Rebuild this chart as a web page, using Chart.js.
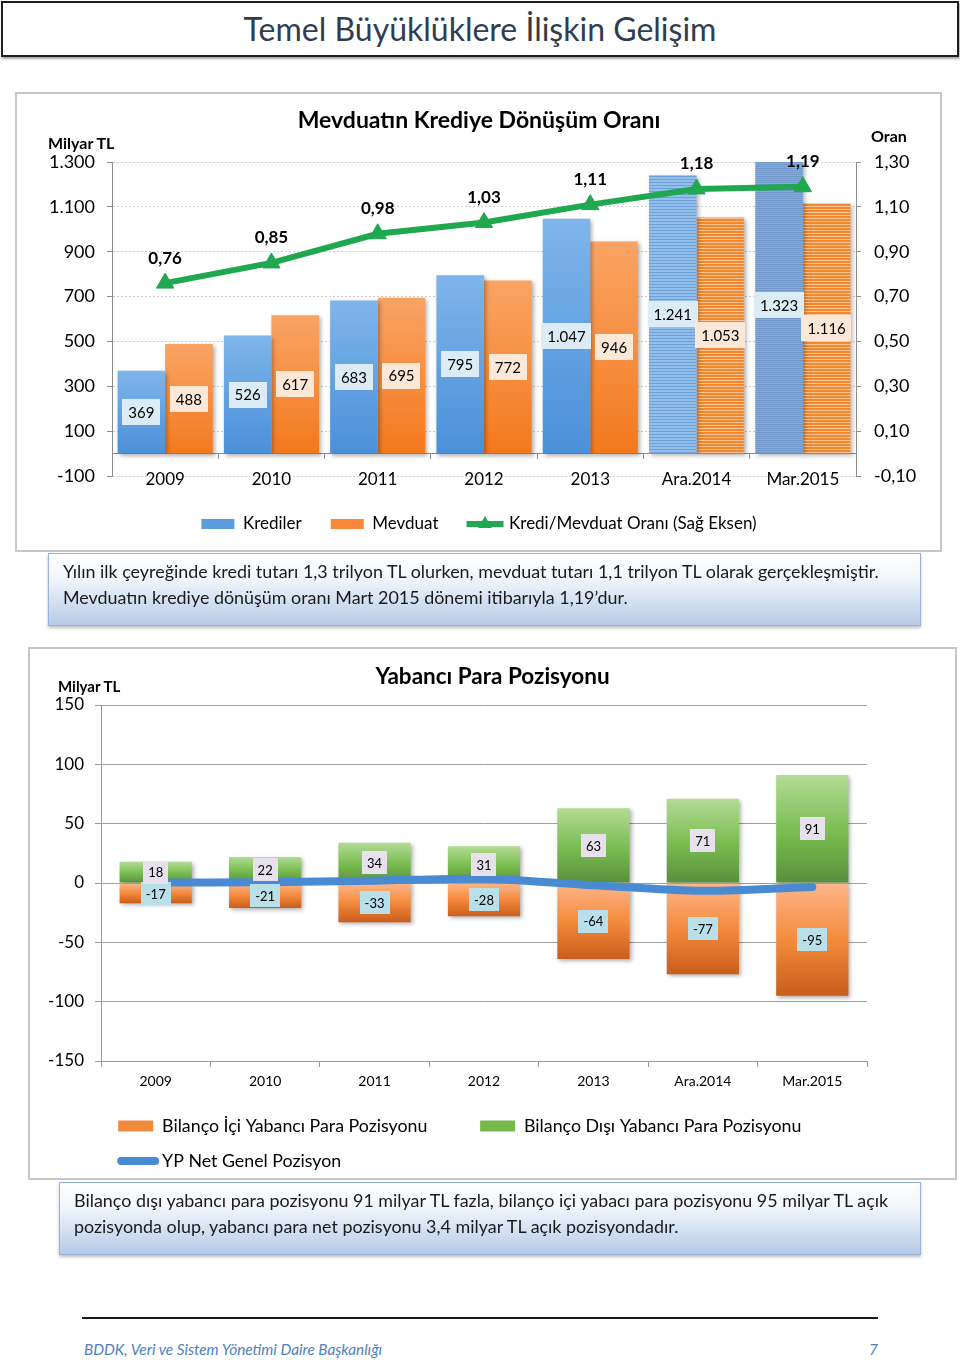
<!DOCTYPE html>
<html lang="tr">
<head>
<meta charset="utf-8">
<script src="https://cdn.jsdelivr.net/npm/chart.js@4.4.1/dist/chart.umd.min.js"></script>
<style>
html,body{margin:0;padding:0;background:#fff;}
body{width:960px;height:1363px;position:relative;overflow:hidden;font-family:Lato,'Open Sans',sans-serif;color:#000;}
.abs{position:absolute;}
#hdr{left:1px;top:1px;width:958px;height:56px;box-sizing:border-box;border:2px solid #1e1e1e;box-shadow:1px 2px 2px rgba(0,0,0,0.35);
  font-size:32px;color:#313d4f;text-align:center;line-height:52px;}
.box{box-sizing:border-box;border:2px solid #c6c6c6;background:#fff;}
.note{box-sizing:border-box;border:1.5px solid #9ab3d8;background:linear-gradient(#ffffff 0%,#f1f5fb 35%,#b6cae8 100%);
  box-shadow:0 2px 3px rgba(0,0,0,0.25);font-size:17.9px;line-height:26px;color:#1a1a1a;white-space:nowrap;padding:4px 0 0 14px;}
.axl{font-weight:bold;white-space:nowrap;line-height:1;}
#foot{left:84px;top:1340px;font-style:italic;font-size:15.3px;color:#4f7fbf;white-space:nowrap;}
#pg{left:869px;top:1340px;font-style:italic;font-size:15.3px;color:#4f7fbf;}
canvas{display:block;}
</style>
</head>
<body>
<div id="hdr" class="abs">Temel Büyüklüklere İlişkin Gelişim</div>

<div class="abs box" style="left:15px;top:92px;width:927px;height:460px;"></div>
<div class="abs" style="left:16px;top:93px;"><canvas id="c1" width="926" height="459"></canvas></div>
<div class="abs axl" style="left:48px;top:135px;font-size:16px;">Milyar TL</div>
<div class="abs axl" style="left:871px;top:128px;font-size:16px;">Oran</div>

<div class="abs note" style="left:48px;top:553px;width:873px;height:73px;">Yılın ilk çeyreğinde kredi tutarı 1,3 trilyon TL olurken, mevduat tutarı 1,1 trilyon TL olarak gerçekleşmiştir.<br>Mevduatın krediye dönüşüm oranı Mart 2015 dönemi itibarıyla 1,19’dur.</div>

<div class="abs box" style="left:28px;top:647px;width:929px;height:533px;"></div>
<div class="abs" style="left:29px;top:648px;"><canvas id="c2" width="927" height="532"></canvas></div>
<div class="abs axl" style="left:58px;top:679px;font-size:15px;">Milyar TL</div>

<div class="abs note" style="left:59px;top:1182px;width:862px;height:73px;">Bilanço dışı yabancı para pozisyonu 91 milyar TL fazla, bilanço içi yabacı para pozisyonu 95 milyar TL açık<br>pozisyonda olup, yabancı para net pozisyonu 3,4 milyar TL açık pozisyondadır.</div>

<div class="abs" style="left:82px;top:1317px;width:796px;height:2px;background:#1a1a1a;"></div>
<div id="foot" class="abs">BDDK, Veri ve Sistem Yönetimi Daire Başkanlığı</div>
<div id="pg" class="abs">7</div>

<script>
// ---------- DATA ----------
const categories = ['2009', '2010', '2011', '2012', '2013', 'Ara.2014', 'Mar.2015'];
const krediler = [369, 526, 683, 795, 1047, 1241, 1323];
const mevduat = [488, 617, 695, 772, 946, 1053, 1116];
const krediMevduatOrani = [0.76, 0.85, 0.98, 1.03, 1.11, 1.18, 1.19];
const leftTicks1 = { min: -100, max: 1300, step: 200 };
const rightTicks1 = { min: -0.10, max: 1.30, step: 0.20 };

const bilancoIci = [-17, -21, -33, -28, -64, -77, -95];
const bilancoDisi = [18, 22, 34, 31, 63, 71, 91];
const ypNetGenel = [0.4, 0.6, 1.9, 3.6, -1.9, -6.6, -3.4];
const ticks2 = { min: -150, max: 150, step: 50 };

// ---------- HELPERS ----------
const FONT = "Lato, 'Open Sans', sans-serif";
Chart.defaults.font.family = FONT;
Chart.defaults.color = '#000';

const trNum = v => (v < 0 ? '-' : '') + Math.abs(Math.round(v)).toString().replace(/\B(?=(\d{3})+(?!\d))/g, '.');
const trDec = (v, d) => v.toFixed(d).replace('.', ',');

function vGrad(chart, y0, y1, stops) {
  const g = chart.ctx.createLinearGradient(0, y0, 0, y1);
  stops.forEach(s => g.addColorStop(s[0], s[1]));
  return g;
}
function stripes(ctx, rows) {
  const cv = document.createElement('canvas');
  cv.width = 4; cv.height = rows.length;
  const x = cv.getContext('2d');
  rows.forEach((c, r) => { x.fillStyle = c; x.fillRect(0, r, 4, 1); });
  return ctx.createPattern(cv, 'repeat');
}

const barShadow = {
  id: 'barShadow',
  beforeDatasetDraw(chart, args) {
    const ds = chart.data.datasets[args.index];
    if (!ds.shadow) return;
    const c = chart.ctx;
    c.save();
    c.shadowColor = 'rgba(0,0,0,0.30)';
    c.shadowBlur = 4; c.shadowOffsetX = 2; c.shadowOffsetY = 2;
  },
  afterDatasetDraw(chart, args) {
    const ds = chart.data.datasets[args.index];
    if (ds.shadow) chart.ctx.restore();
  }
};

const dataLabels = {
  id: 'dataLabels',
  afterDatasetsDraw(chart) {
    const c = chart.ctx;
    chart.data.datasets.forEach((ds, i) => {
      const cfg = ds.dl;
      if (!cfg) return;
      const meta = chart.getDatasetMeta(i);
      meta.data.forEach((el, j) => {
        const text = cfg.fmt(ds.data[j]);
        c.save();
        c.font = cfg.font;
        const x = el.x;
        const y = cfg.mode === 'center' ? (el.y + el.base) / 2 : el.y + cfg.dy;
        if (cfg.bg) {
          const w = c.measureText(text).width + 2 * cfg.padX;
          c.fillStyle = cfg.bg;
          c.fillRect(Math.round(x - w / 2), Math.round(y - cfg.h / 2), Math.round(w), cfg.h);
        }
        c.fillStyle = '#000';
        c.textAlign = 'center';
        c.textBaseline = 'middle';
        c.fillText(text, x, y + 1);
        c.restore();
      });
    });
  }
};

const legendMarker = {
  id: 'legendMarker',
  afterDraw(chart) {
    const lg = chart.legend;
    if (!lg || !lg.legendItems) return;
    const c = chart.ctx;
    const bw = lg.options.labels.boxWidth;
    lg.legendItems.forEach((it, i) => {
      if (!it.marker) return;
      const hb = lg.legendHitBoxes[i];
      const cy = hb.top + hb.height / 2;
      c.save();
      if (it.marker === 'triLine') {
        c.strokeStyle = it.markerColor; c.lineWidth = 6;
        c.beginPath(); c.moveTo(hb.left - 1, cy); c.lineTo(hb.left + bw + 3, cy); c.stroke();
        const cx = hb.left + bw / 2 + 1, r = 8;
        c.fillStyle = it.markerColor;
        c.beginPath();
        c.moveTo(cx, cy - r);
        c.lineTo(cx + 0.866 * r, cy + r / 2);
        c.lineTo(cx - 0.866 * r, cy + r / 2);
        c.closePath(); c.fill();
      } else if (it.marker === 'roundLine') {
        c.strokeStyle = it.markerColor; c.lineWidth = 8; c.lineCap = 'round';
        c.beginPath(); c.moveTo(hb.left + 3, cy); c.lineTo(hb.left + bw + 2, cy); c.stroke();
      }
      c.restore();
    });
  }
};

// ---------- CHART 1 ----------
const ctx1 = document.getElementById('c1').getContext('2d');
const patBlueA = stripes(ctx1, ['#93bfea', '#93bfea', '#6c9fd8']);
const patBlueB = stripes(ctx1, ['#86abd8', '#6f97c9']);
const patOrange = stripes(ctx1, ['#f2892e', '#f2892e', '#fac497']);

function bar1Color(kind) {
  return (c) => {
    if (c.type !== 'data' || !c.chart.chartArea) return kind === 'b' ? '#5b9ddf' : '#f7883a';
    const i = c.dataIndex;
    if (i >= 5) return kind === 'b' ? (i === 5 ? patBlueA : patBlueB) : patOrange;
    const ys = c.chart.scales.y;
    const top = ys.getPixelForValue(c.raw), bot = ys.getPixelForValue(0);
    return kind === 'b'
      ? vGrad(c.chart, top, bot, [[0, '#7fb5ea'], [1, '#4a90d9']])
      : vGrad(c.chart, top, bot, [[0, '#f9a465'], [1, '#f3791d']]);
  };
}

new Chart(ctx1, {
  data: {
    labels: categories,
    datasets: [
      { type: 'line', label: 'Kredi/Mevduat Oranı (Sağ Eksen)', data: krediMevduatOrani, yAxisID: 'y1', xAxisID: 'x',
        borderColor: '#1fa84f', borderWidth: 6, pointStyle: 'triangle', pointRadius: 10,
        pointBackgroundColor: '#1fa84f', pointBorderColor: '#1fa84f', pointBorderWidth: 1, tension: 0, order: 0,
        dl: { mode: 'above', dy: -26, font: 'bold 17px ' + FONT, fmt: v => trDec(v, 2) } },
      { type: 'bar', label: 'Krediler', data: krediler, yAxisID: 'y', xAxisID: 'x', order: 1, clip: 0, shadow: true,
        backgroundColor: bar1Color('b'), categoryPercentage: 0.895, barPercentage: 1.0,
        dl: { mode: 'center', font: '15px ' + FONT, bg: '#dcecf7', padX: 6, h: 26, fmt: trNum } },
      { type: 'bar', label: 'Mevduat', data: mevduat, yAxisID: 'y', xAxisID: 'x', order: 2, clip: 0, shadow: true,
        backgroundColor: bar1Color('o'), categoryPercentage: 0.895, barPercentage: 1.0,
        dl: { mode: 'center', font: '15px ' + FONT, bg: '#fde8d8', padX: 6, h: 26, fmt: trNum } }
    ]
  },
  options: {
    responsive: false, animation: false, devicePixelRatio: 1, events: [],
    layout: { padding: { left: 0, right: 0, top: 0, bottom: 9.5 } },
    plugins: {
      title: { display: true, text: 'Mevduatın Krediye Dönüşüm Oranı', color: '#000',
        font: { size: 23, weight: 'bold' }, padding: { top: 14.2, bottom: 27.2 } },
      legend: {
        position: 'bottom',
        labels: {
          boxWidth: 33, boxHeight: 10, padding: 29, color: '#000', font: { size: 17 },
          generateLabels: (chart) => {
            const d = chart.data.datasets;
            return [
              { text: d[1].label, fillStyle: '#5b9ddf', strokeStyle: '#5b9ddf', lineWidth: 0, datasetIndex: 1, hidden: false, fontColor: '#000' },
              { text: d[2].label, fillStyle: '#f7883a', strokeStyle: '#f7883a', lineWidth: 0, datasetIndex: 2, hidden: false, fontColor: '#000' },
              { text: d[0].label, fillStyle: 'rgba(0,0,0,0)', strokeStyle: 'rgba(0,0,0,0)', lineWidth: 0, datasetIndex: 0, hidden: false, fontColor: '#000', marker: 'triLine', markerColor: '#1fa84f' }
            ];
          }
        }
      },
      tooltip: { enabled: false }
    },
    scales: {
      x: { type: 'category', position: { y: 0 }, offset: true,
        grid: { display: true, drawOnChartArea: false, drawTicks: true, tickLength: 5, offset: true, color: '#8c8c8c' },
        border: { display: true, color: '#8c8c8c', width: 1 },
        ticks: { font: { size: 17 }, padding: 11, color: '#000' } },
      x2: { type: 'category', labels: categories, position: 'bottom', display: true,
        grid: { display: false }, border: { display: false }, ticks: { display: false },
        afterFit: s => { s.height = 10.5; } },
      y: { type: 'linear', position: 'left', min: leftTicks1.min, max: leftTicks1.max,
        ticks: { stepSize: leftTicks1.step, font: { size: 18 }, padding: 12, color: '#000', callback: v => trNum(v) },
        grid: { color: '#cfcfcf', lineWidth: 1, drawTicks: true, tickLength: 5, tickColor: '#8c8c8c' },
        border: { display: true, color: '#8c8c8c', dash: [2, 2] },
        afterFit: s => { s.width = 96; } },
      y1: { type: 'linear', position: 'right', min: rightTicks1.min, max: rightTicks1.max,
        ticks: { stepSize: rightTicks1.step, font: { size: 18 }, padding: 13, color: '#000', callback: v => trDec(v, 2) },
        grid: { drawOnChartArea: false, drawTicks: true, tickLength: 5, color: '#8c8c8c' },
        border: { display: true, color: '#8c8c8c' },
        afterFit: s => { s.width = 86; } }
    }
  },
  plugins: [barShadow, dataLabels, legendMarker]
});

// ---------- CHART 2 ----------
const ctx2 = document.getElementById('c2').getContext('2d');
function bar2Color(kind) {
  return (c) => {
    if (c.type !== 'data' || !c.chart.chartArea) return kind === 'g' ? '#76b94d' : '#f08a3c';
    const ys = c.chart.scales.y;
    const vp = ys.getPixelForValue(c.raw), zp = ys.getPixelForValue(0);
    return kind === 'g'
      ? vGrad(c.chart, vp, zp, [[0, '#b3dc95'], [0.55, '#78bb4e'], [1, '#5a8e3d']])
      : vGrad(c.chart, zp, vp, [[0, '#fdb68a'], [0.5, '#f48b3d'], [1, '#c95d1b']]);
  };
}

new Chart(ctx2, {
  data: {
    labels: categories,
    datasets: [
      { type: 'line', label: 'YP Net Genel Pozisyon', data: ypNetGenel, stack: 'net', order: 0,
        borderColor: '#4a8ad2', borderWidth: 8, pointRadius: 0, tension: 0.3,
        borderCapStyle: 'round', borderJoinStyle: 'round' },
      { type: 'bar', label: 'Bilanço İçi Yabancı Para Pozisyonu', data: bilancoIci, stack: 'fx', order: 1, clip: 0, shadow: true,
        backgroundColor: bar2Color('o'), categoryPercentage: 0.66, barPercentage: 1.0,
        dl: { mode: 'center', font: '13px ' + FONT, bg: '#b9dfe9', padX: 5, h: 23, fmt: trNum } },
      { type: 'bar', label: 'Bilanço Dışı Yabancı Para Pozisyonu', data: bilancoDisi, stack: 'fx', order: 2, clip: 0, shadow: true,
        backgroundColor: bar2Color('g'), categoryPercentage: 0.66, barPercentage: 1.0,
        dl: { mode: 'center', font: '13px ' + FONT, bg: '#e6e1ec', padX: 5, h: 23, fmt: trNum } }
    ]
  },
  options: {
    responsive: false, animation: false, devicePixelRatio: 1, events: [],
    layout: { padding: { left: 0, right: 0, top: 0, bottom: 0 } },
    plugins: {
      title: { display: true, text: 'Yabancı Para Pozisyonu', color: '#000',
        font: { size: 22.5, weight: 'bold' }, padding: { top: 15.5, bottom: 14.5 } },
      legend: {
        position: 'bottom', fullSize: false, align: 'start',
        labels: {
          boxWidth: 35, boxHeight: 11, padding: 17.2, color: '#000', font: { size: 17.8 },
          generateLabels: (chart) => {
            const d = chart.data.datasets;
            const gap = '\u2002\u2002\u2002\u2002';
            return [
              { text: d[1].label + gap, fillStyle: '#f08a3c', strokeStyle: '#f08a3c', lineWidth: 0, datasetIndex: 1, hidden: false, fontColor: '#000' },
              { text: d[2].label, fillStyle: '#76b94d', strokeStyle: '#76b94d', lineWidth: 0, datasetIndex: 2, hidden: false, fontColor: '#000' },
              { text: d[0].label, fillStyle: 'rgba(0,0,0,0)', strokeStyle: 'rgba(0,0,0,0)', lineWidth: 0, datasetIndex: 0, hidden: false, fontColor: '#000', marker: 'roundLine', markerColor: '#4a8ad2' }
            ];
          }
        }
      },
      tooltip: { enabled: false }
    },
    scales: {
      x: { type: 'category', position: 'bottom', offset: true, stacked: true,
        grid: { display: true, drawOnChartArea: false, drawTicks: true, tickLength: 6, offset: true, color: '#9a9a9a' },
        border: { display: true, color: '#9a9a9a', width: 1 },
        ticks: { font: { size: 14 }, padding: 5.6, color: '#000' },
        afterFit: s => { s.height = 39; } },
      y: { type: 'linear', position: 'left', stacked: true, min: ticks2.min, max: ticks2.max,
        ticks: { stepSize: ticks2.step, font: { size: 17 }, padding: 11, color: '#000' },
        grid: { color: '#a0a0a0', lineWidth: 1, drawTicks: true, tickLength: 6, tickColor: '#9a9a9a' },
        border: { display: true, color: '#9a9a9a' },
        afterFit: s => { s.width = 72; } },
      yR: { type: 'linear', position: 'right', display: true,
        grid: { display: false }, border: { display: false }, ticks: { display: false },
        afterFit: s => { s.width = 89; } }
    }
  },
  plugins: [barShadow, dataLabels, legendMarker]
});
</script>
</body>
</html>
